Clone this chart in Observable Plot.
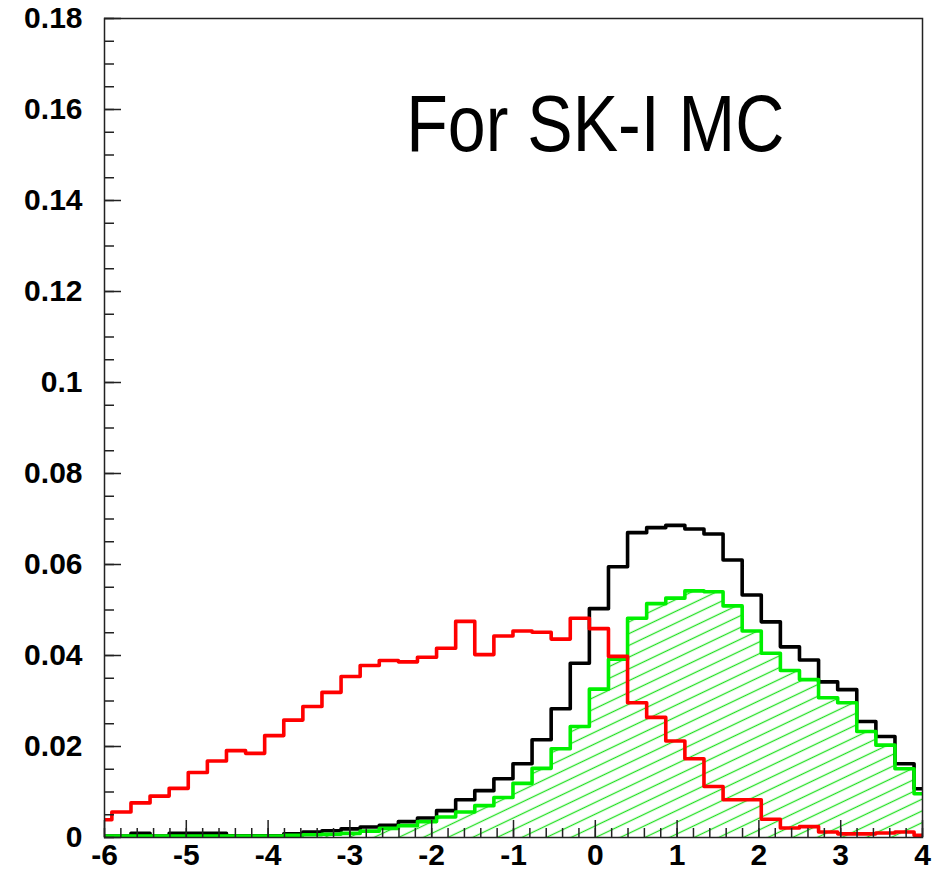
<!DOCTYPE html>
<html>
<head>
<meta charset="utf-8">
<script src="https://cdn.jsdelivr.net/npm/d3@7"></script>
<script src="https://cdn.jsdelivr.net/npm/@observablehq/plot@0.6"></script>
<style>
  body { margin: 0; background: #ffffff; }
</style>
</head>
<body>
<div id="chart"></div>
<script>
// Equal-width bins; the first and the last bin are cut by the x range [-6, 4].
const binStart = -6.1435;
const binWidth = 0.2335;

// Normalised bin contents (44 bins)
const redValues = [
  0.0039, 0.0056, 0.0076, 0.0091, 0.0108, 0.0143, 0.0168, 0.0191, 0.0185, 0.0224,
  0.0258, 0.0288, 0.0319, 0.0354, 0.0378, 0.0389, 0.0386, 0.0396, 0.0416, 0.0475,
  0.0402, 0.0443, 0.0454, 0.0451, 0.0436, 0.0482, 0.0459, 0.0398, 0.0296, 0.0264,
  0.0212, 0.0173, 0.0112, 0.0083, 0.0083, 0.0040, 0.0021, 0.0024, 0.0012, 0.0008,
  0.0008, 0.0010, 0.0012, 0.0005
];
const blackValues = [
  0.0003, 0.0003, 0.0009, 0.0003, 0.0009, 0.0009, 0.0009, 0.0004, 0.0004, 0.0004,
  0.0008, 0.0012, 0.0015, 0.0019, 0.0023, 0.0027, 0.0035, 0.0043, 0.0059, 0.0083,
  0.0103, 0.0129, 0.0162, 0.0215, 0.0283, 0.0383, 0.0503, 0.0595, 0.0670, 0.0681,
  0.0686, 0.0678, 0.0667, 0.0610, 0.0533, 0.0474, 0.0419, 0.0390, 0.0342, 0.0325,
  0.0255, 0.0222, 0.0162, 0.0107
];
const greenValues = [
  0.0003, 0.0003, 0.0003, 0.0003, 0.0003, 0.0003, 0.0003, 0.0003, 0.0003, 0.0003,
  0.0005, 0.0006, 0.0007, 0.0009, 0.0014, 0.0020, 0.0026, 0.0035, 0.0045, 0.0056,
  0.0070, 0.0088, 0.0119, 0.0152, 0.0195, 0.0244, 0.0326, 0.0392, 0.0482, 0.0514,
  0.0526, 0.0542, 0.0540, 0.0509, 0.0454, 0.0405, 0.0367, 0.0347, 0.0307, 0.0296,
  0.0233, 0.0203, 0.0151, 0.0096
];

const xTicks = [-6, -5, -4, -3, -2, -1, 0, 1, 2, 3, 4];
const yTicks = [0, 0.02, 0.04, 0.06, 0.08, 0.1, 0.12, 0.14, 0.16, 0.18];
const titleText = "For SK-I MC";

// Turn bin contents into the corner points of a step outline
function steps(values) {
  return values.flatMap((v, i) => [
    {x: binStart + i * binWidth, y: v},
    {x: binStart + (i + 1) * binWidth, y: v}
  ]);
}

const red = steps(redValues);
const black = steps(blackValues);
const green = steps(greenValues);

const xMinor = d3.range(-6, 4.0001, 0.2).map(d => +d.toFixed(2));
const yMinor = d3.range(0, 0.18001, 0.005).map(d => +d.toFixed(3));
const fmtY = d => String(+d.toFixed(2));
const axisColor = "#222";

const chart = Plot.plot({
  width: 946,
  height: 877,
  marginLeft: 104,
  marginRight: 24,
  marginTop: 18,
  marginBottom: 40,
  style: {
    fontFamily: "'Liberation Sans', Arial, Helvetica, sans-serif",
    fontSize: "30px",
    fontWeight: "bold",
    color: "#000",
    background: "#fff"
  },
  x: {domain: [-6, 4], label: null},
  y: {domain: [0, 0.18], label: null},
  marks: [
    // hatched area under the green histogram (unstacked: from 0 up to the bin content)
    Plot.areaY(green, {x: "x", y1: 0, y2: "y", fill: "url(#hatch)", clip: true}),
    Plot.line(black, {x: "x", y: "y", stroke: "#000", strokeWidth: 3.6, clip: true}),
    Plot.line(green, {x: "x", y: "y", stroke: "#00f000", strokeWidth: 3.6, clip: true}),
    Plot.line(red, {x: "x", y: "y", stroke: "#ff0000", strokeWidth: 3.6, clip: true}),
    Plot.frame({stroke: axisColor, strokeWidth: 1.5}),
    // inward ticks: minor then major
    Plot.axisY({ticks: yMinor, tickSize: 10, dx: 10, fill: "none", stroke: axisColor, strokeWidth: 1.5, label: null}),
    Plot.axisY({ticks: yTicks, tickSize: 17, dx: 17, tickPadding: 22, tickFormat: fmtY, stroke: axisColor, strokeWidth: 1.5, label: null}),
    Plot.axisX({ticks: xMinor, tickSize: 9, dy: -9, fill: "none", stroke: axisColor, strokeWidth: 1.5, label: null}),
    Plot.axisX({ticks: xTicks, tickSize: 17, dy: -17, tickPadding: 6, tickFormat: d => String(d), stroke: axisColor, strokeWidth: 1.5, label: null}),
    Plot.text([titleText], {x: 0, y: 0.1565, text: d => d, fontSize: 79, fontWeight: "normal", lineAnchor: "middle", textAnchor: "middle", fill: "#000"})
  ]
});

// hatch pattern used by the green area
chart.insertAdjacentHTML("afterbegin",
  '<defs><pattern id="hatch" patternUnits="userSpaceOnUse" width="20" height="10.6" patternTransform="rotate(-25.5)">' +
  '<line x1="-2" y1="5.3" x2="22" y2="5.3" stroke="#22e022" stroke-width="1.3"/></pattern></defs>');

// narrower set width for the title line
for (const t of chart.querySelectorAll("text")) {
  if (t.textContent === titleText) {
    t.setAttribute("textLength", "378");
    t.setAttribute("lengthAdjust", "spacingAndGlyphs");
  }
}

document.getElementById("chart").appendChild(chart);
</script>
</body>
</html>
